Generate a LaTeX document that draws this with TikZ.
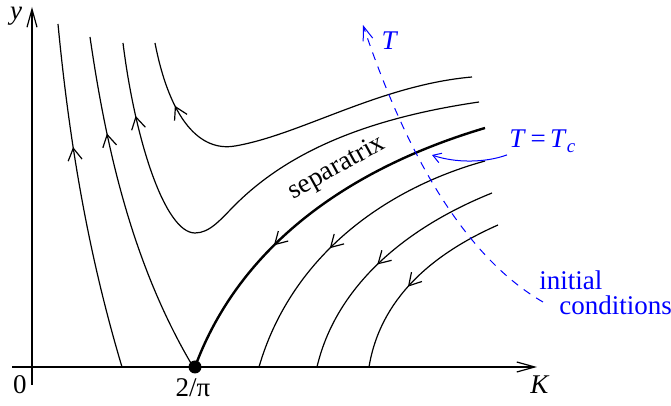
\documentclass[tikz,border=0pt]{standalone}
\usepackage{fontspec}
\setmainfont{Liberation Serif}
\usetikzlibrary{arrows.meta,decorations.markings}
\tikzset{
  flow/.style={postaction={decorate,decoration={markings,
    mark=at position #1 with {\arrow{Straight Barb[length=6pt,width=7pt,line width=0.6pt]}}}}},
  traj/.style={line width=0.6pt},
  lbl/.style={font=\fontsize{13.5}{16}\selectfont,inner sep=1pt},
  bluelbl/.style={lbl,text=blue},
}

\begin{document}
\begin{tikzpicture}[>={Straight Barb[length=9pt,width=5pt]},x=0.5pt,y=-0.5pt]
  \useasboundingbox (0,0) rectangle (671,406);
  % axes
  \coordinate (xbeg) at (12,367);
  \coordinate (xend) at (537,367);
  \coordinate (ybeg) at (32,385);
  \coordinate (yend) at (32,7);
  \draw[->,line width=0.6pt] (xbeg) -- (xend);
  \draw[->,line width=0.6pt] (ybeg) -- (yend);
  \node[lbl] (ylbl) at (16,16) {\textit{y}};
  \node[lbl] (Klbl) at (540,385) {\textit{K}};
  \node[lbl] (zero) at (20,385) {0};
  \node[lbl] (fp) at (193,388) {2/π};
  % fixed point
  \fill (195,367) circle[radius=3.25pt];
  % flow lines going up
  \draw[traj,flow=-62pt] (122,367) .. controls (90,260) and (70,150) .. (58,24);
  \draw[traj,flow=-49pt] (192,365) .. controls (130,260) and (105,140) .. (90,37);
  \draw[traj,flow=-37pt] (479,102) .. controls (370,118) and (290,150) .. (235,205)
    .. controls (221,219) and (210,233) .. (195,233)
    .. controls (165,233) and (135,140) .. (123,43);
  \draw[traj,flow=-33pt] (472,77) .. controls (380,85) and (300,135) .. (235,146)
    .. controls (200,152) and (170,120) .. (155,43);
  % separatrix
  \draw[line width=1.2pt,flow=122pt] (485,128) .. controls (350,168) and (240,245) .. (195,367);
  \node[lbl,rotate=29] (sep) at (337,168) {separatrix};
  % flow lines going down
  \draw[traj,flow=90pt] (485,161) .. controls (380,190) and (290,260) .. (259,367);
  \draw[traj,flow=68pt] (492,193) .. controls (400,230) and (335,290) .. (317,367);
  \draw[traj,flow=55pt] (498,225) .. controls (430,255) and (380,300) .. (369,367);
  % line of initial conditions
  \draw[blue,line width=0.5pt,dash pattern=on 4pt off 3.5pt,->,>={Straight Barb[length=7pt,width=5pt]}]
    (543,302) .. controls (470,260) and (410,165) .. (363,25);
  \node[bluelbl] (Tlbl) at (390,41) {\textit{T}};
  \node[bluelbl,anchor=base west] (init) at (537,290) {initial};
  \node[bluelbl,anchor=base west] (cond) at (557,315) {conditions};
  % critical point on the line
  \node[bluelbl,anchor=base west] (Tc) at (507,148) {\textit{T}\,=\,\textit{T}\textsubscript{\textit{c}}};
  \coordinate (crit) at (432,155);
  \draw[blue,line width=0.5pt,->,>={Straight Barb[length=4pt,width=5pt]}]
    (Tc.south west) .. controls (485,163) and (455,163) .. (crit);
\end{tikzpicture}
\end{document}
